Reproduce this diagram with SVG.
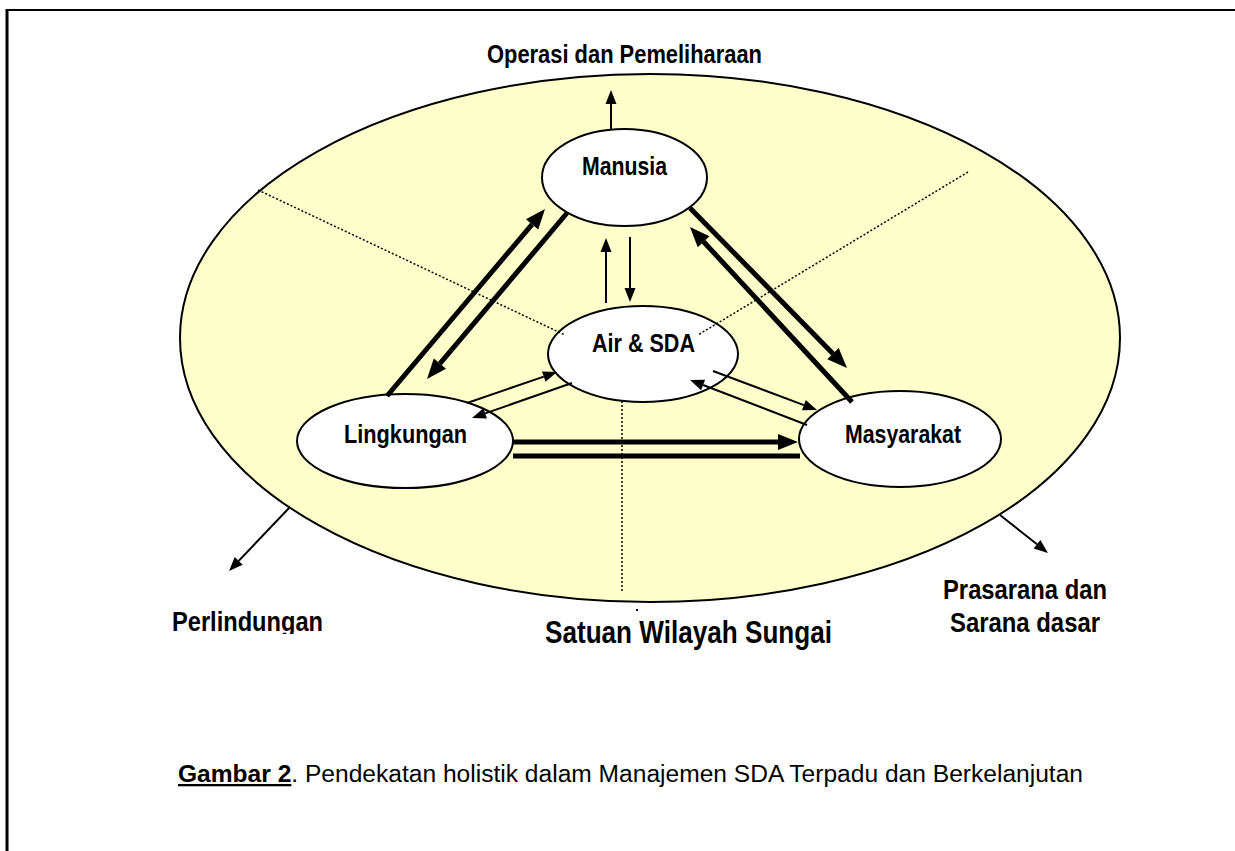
<svg xmlns="http://www.w3.org/2000/svg" width="1235" height="851" viewBox="0 0 1235 851">
<style>
.lbl{font-family:"Liberation Sans Narrow","Arial Narrow","Liberation Sans",Arial,sans-serif;font-weight:bold;fill:#000}
.cap{font-family:"Liberation Sans Narrow","Arial Narrow","Liberation Sans",Arial,sans-serif;fill:#000}
.node{fill:#fff;stroke:#000;stroke-width:2}
.thin{stroke:#000;stroke-width:2;fill:none;marker-end:url(#hs)}
.thick{stroke:#000;stroke-width:5;fill:none;marker-end:url(#hb)}
.dot{stroke:#000;stroke-width:1.5;stroke-dasharray:2 2;fill:none}
</style>
<defs>
<marker id="hs" markerUnits="userSpaceOnUse" viewBox="0 -6 14 12" refX="0" refY="0" markerWidth="14" markerHeight="12" orient="auto" overflow="visible"><path d="M0,-5.5 L14,0 L0,5.5 Z" fill="#000"/></marker>
<marker id="hb" markerUnits="userSpaceOnUse" viewBox="0 -8 20 16" refX="0" refY="0" markerWidth="20" markerHeight="16" orient="auto" overflow="visible"><path d="M0,-8 L20,0 L0,8 Z" fill="#000"/></marker>
<clipPath id="clipP"><rect x="160" y="590" width="180" height="44"/></clipPath>
</defs>
<rect x="0" y="0" width="1235" height="851" fill="#fff"/>
<g id="frame" stroke="#000" fill="none">
<line x1="6" y1="10" x2="1235" y2="10" stroke-width="2"/>
<line x1="7" y1="9" x2="7" y2="851" stroke-width="3"/>
</g>
<g id="wilayah">
<ellipse cx="650" cy="338" rx="470" ry="264" fill="#FFFFCC" stroke="#000" stroke-width="2"/>
</g>
<g id="manusia"><ellipse class="node" cx="624.5" cy="177.5" rx="82.5" ry="48.5"/><text class="lbl" x="582" y="175" font-size="26" textLength="85" lengthAdjust="spacingAndGlyphs">Manusia</text></g>
<g id="air"><ellipse class="node" cx="643" cy="354" rx="95" ry="48"/><text class="lbl" x="592" y="352" font-size="26" textLength="103" lengthAdjust="spacingAndGlyphs">Air &amp; SDA</text></g>
<g id="lingkungan"><ellipse class="node" cx="405" cy="441" rx="108" ry="47"/><text class="lbl" x="344" y="443" font-size="26" textLength="123" lengthAdjust="spacingAndGlyphs">Lingkungan</text></g>
<g id="masyarakat"><ellipse class="node" cx="900" cy="439" rx="101" ry="48"/><text class="lbl" x="845" y="443" font-size="26" textLength="116" lengthAdjust="spacingAndGlyphs">Masyarakat</text></g>
<g id="dividers">
<line class="dot" x1="258" y1="190" x2="565" y2="335"/>
<line class="dot" x1="968" y1="172" x2="698" y2="335"/>
<line class="dot" x1="622" y1="401" x2="622" y2="593"/>
<rect x="636" y="609" width="2" height="2" fill="#000"/>
</g>
<g id="connectors">
<line class="thick" x1="387" y1="396" x2="532.1" y2="224.3"/>
<line class="thick" x1="567" y1="213" x2="439.9" y2="363.7"/>
<line class="thick" x1="690" y1="208" x2="833" y2="353.7"/>
<line class="thick" x1="852" y1="402" x2="703.6" y2="241.7"/>
<line class="thick" x1="513" y1="442" x2="778" y2="442"/>
<line stroke="#000" stroke-width="5" x1="800" y1="456" x2="513" y2="456"/>
<line class="thin" x1="606" y1="303" x2="606" y2="252"/>
<line class="thin" x1="630" y1="237" x2="630" y2="288"/>
<line class="thin" x1="467" y1="403" x2="543.8" y2="376.6"/>
<line class="thin" x1="572" y1="383" x2="485.2" y2="413.4"/>
<line class="thin" x1="713" y1="371" x2="803.9" y2="405.1"/>
<line class="thin" x1="807" y1="425" x2="703.1" y2="385"/>
<line class="thin" x1="611" y1="130" x2="611" y2="104"/>
<line class="thin" x1="289" y1="508" x2="238.7" y2="560.9"/>
<line class="thin" x1="1000" y1="515" x2="1037" y2="544.3"/>
</g>
<g id="labels">
<text class="lbl" x="487" y="63" font-size="26" textLength="275" lengthAdjust="spacingAndGlyphs">Operasi dan Pemeliharaan</text>
<text class="lbl" x="172" y="631" font-size="27" textLength="151" lengthAdjust="spacingAndGlyphs" clip-path="url(#clipP)">Perlindungan</text>
<text class="lbl" x="545" y="643" font-size="31" textLength="287" lengthAdjust="spacingAndGlyphs">Satuan Wilayah Sungai</text>
<text class="lbl" x="943" y="599" font-size="27" textLength="164" lengthAdjust="spacingAndGlyphs">Prasarana dan</text>
<text class="lbl" x="950" y="632" font-size="27" textLength="150" lengthAdjust="spacingAndGlyphs">Sarana dasar</text>
<text class="cap" x="178" y="782" font-size="23" textLength="905" lengthAdjust="spacingAndGlyphs"><tspan font-weight="bold" text-decoration="underline">Gambar 2</tspan>. Pendekatan holistik dalam Manajemen SDA Terpadu dan Berkelanjutan</text>
</g>
</svg>
